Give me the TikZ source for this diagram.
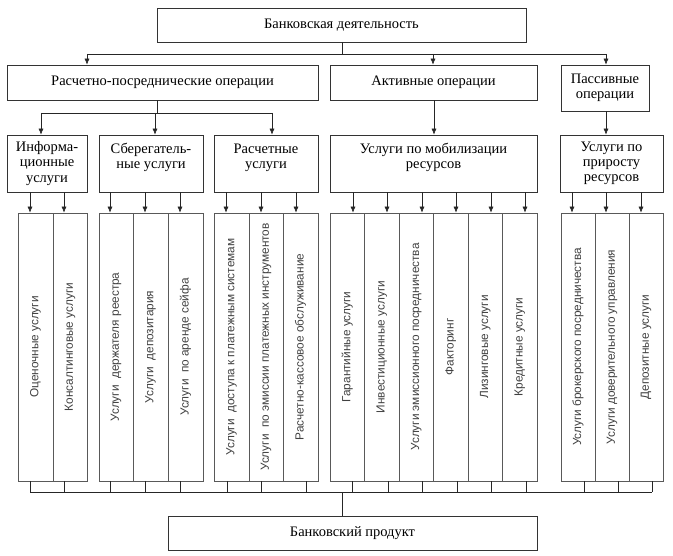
\documentclass[tikz,border=0pt]{standalone}
\usepackage{fontspec}
\setmainfont{Liberation Serif}
\newfontfamily\leaffont{Liberation Sans}
\usetikzlibrary{arrows.meta,calc}
\begin{document}
\begin{tikzpicture}[x=1pt,y=-1pt,
  box/.style={draw=black!80, line width=0.7pt, fill=white, inner sep=2pt,
    font=\fontsize{14.5}{15.2}\selectfont, align=center},
  leafbox/.style={draw=black!65, line width=0.7pt},
  leaftext/.style={rotate=90, inner sep=0pt, font=\leaffont\fontsize{11.8}{13}\selectfont, text=black!75},
  arr/.style={-{Latex[length=6pt,width=5pt]}, line width=0.6pt, draw=black!85},
  ln/.style={line width=0.6pt, draw=black!85}]
\useasboundingbox (0,0) rectangle (673,556);

% level 1
\node[box, minimum width=369pt, minimum height=34pt] (top) at (341.5,25) {Банковская деятельность};
% level 2
\node[box, minimum width=311pt, minimum height=35pt] (l2a) at (162.5,82.5) {Расчетно-посреднические операции};
\node[box, minimum width=207pt, minimum height=35pt] (l2b) at (433.5,82.5) {Активные операции};
\node[box, minimum width=88pt, minimum height=46pt] (l2c) at (605,88) {Пассивные\\операции};
% level 3
\node[box, minimum width=80pt, minimum height=57pt] (l3a) at (47,163.5) {Информа-\\ционные\\услуги};
\node[box, minimum width=104pt, minimum height=57pt] (l3b) at (151,163.5) {Сберегатель-\\ные услуги\\~};
\node[box, minimum width=104pt, minimum height=57pt] (l3c) at (266,163.5) {Расчетные\\услуги\\~};
\node[box, minimum width=207pt, minimum height=57pt] (l3d) at (433.5,163.5) {Услуги по мобилизации\\ресурсов\\~};
\node[box, minimum width=103pt, minimum height=57pt] (l3e) at (611.5,163.5) {Услуги по\\приросту\\ресурсов};
% bottom
\node[box, minimum width=369pt, minimum height=34pt] (bottom) at (352.5,533) {Банковский продукт};

% connectors level 1 -> 2
\coordinate (j0) at (342,54);
\coordinate (c2a) at (87,54);
\coordinate (c2b) at (433,54);
\coordinate (c2c) at (606,54);
\draw[ln] (j0 |- top.south) -- (j0);
\draw[ln] (c2a) -- (c2c);
\draw[arr] (c2a) -- (c2a |- l2a.north);
\draw[arr] (c2b) -- (c2b |- l2b.north);
\draw[arr] (c2c) -- (c2c |- l2c.north);

% connectors level 2 -> 3
\coordinate (j1) at (157,113);
\coordinate (c3a) at (41,113);
\coordinate (c3b) at (155,113);
\coordinate (c3c) at (272,113);
\coordinate (c3d) at (434,113);
\coordinate (c3e) at (606,113);
\draw[ln] (j1 |- l2a.south) -- (j1);
\draw[ln] (c3a) -- (c3c);
\draw[arr] (c3a) -- (c3a |- l3a.north);
\draw[arr] (c3b) -- (c3b |- l3b.north);
\draw[arr] (c3c) -- (c3c |- l3c.north);
\draw[arr] (c3d |- l2b.south) -- (c3d |- l3d.north);
\draw[arr] (c3e |- l2c.south) -- (c3e |- l3e.north);

% bus to product
\coordinate (bus) at (342,492);

% leaves
\foreach \n/\p/\cx/\w/\ao/\so/\t in {
  g1/l3a/35.5/35/-5.5/-5.5/Оценочные услуги,
  g2/l3a/70/34/-6/-6/Консалтинговые услуги,
  g3/l3b/116/34/-6/-6/Услуги\ \ держателя реестра,
  g4/l3b/150.5/35/-5.5/-5.5/Услуги\ \ депозитария,
  g5/l3b/185.5/35/-5.5/-5.5/Услуги\ \ по аренде сейфа,
  g6/l3c/231.5/35/-5.5/-4.5/Услуги\ \ доступа к платежным системам,
  g7/l3c/266/34/-5/-5/Услуги\ \ по эмиссии платежных инструментов,
  g8/l3c/300.5/35/-4.5/5.5/Расчетно-кассовое обслуживание,
  g9/l3d/347.25/34.5/5.75/4.75/Гарантийные услуги,
  g10/l3d/381.75/34.5/5.25/6.25/Инвестиционные услуги,
  g11/l3d/416.25/34.5/5.75/5.75/Услуги эмиссионного посредничества,
  g12/l3d/450.75/34.5/5.25/6.25/Факторинг,
  g13/l3d/485.25/34.5/5.75/5.75/Лизинговые услуги,
  g14/l3d/519.75/34.5/5.25/6.25/Кредитные услуги,
  g15/l3e/578/34/-6/6/Услуги брокерского посредничества,
  g16/l3e/612/34/-6/6/Услуги доверительного управления,
  g17/l3e/646/34/-5/6/Депозитные услуги}{
  \node[leafbox, minimum width=\w pt, minimum height=268pt] (\n) at (\cx,347) {};
  \node[leaftext] (t\n) at (\n.center) {\t};
  \coordinate (a\n) at ($(\n.north)+(\ao,0)$);
  \coordinate (s\n) at ($(\n.south)+(\so,0)$);
  \draw[arr] (a\n |- \p.south) -- (a\n);
  \draw[ln] (s\n) -- (s\n |- bus);
}
\draw[ln] (sg1 |- bus) -- (sg17 |- bus);
\draw[ln] (bus) -- (bus |- bottom.north);
\end{tikzpicture}
\end{document}
